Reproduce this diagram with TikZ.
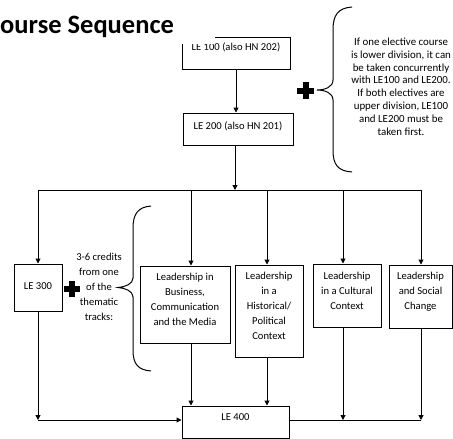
\documentclass[tikz,border=0pt]{standalone}
\usepackage{fontspec}
\setmainfont{Carlito}
\usetikzlibrary{arrows.meta}
\begin{document}
\begin{tikzpicture}[x=1pt,y=-1pt,
  box/.style={draw, line width=1pt, inner sep=0pt},
  txt/.style={align=center, inner sep=0pt, font=\fontsize{10.6}{15}\selectfont},
  note/.style={align=center, inner sep=0pt, font=\fontsize{10.9}{12.8}\selectfont},
  conn/.style={line width=1pt},
  arr/.style={conn, -{Triangle[length=5pt,width=5pt]}},
  brace/.style={line width=1pt},
  plussign/.style={fill=black}]
\useasboundingbox (0,0) rectangle (453,439);

% top boxes
\node[box, minimum width=108pt, minimum height=32pt] (le100) at (236,53) {};
\node[txt] (le100t) at (236,47) {LE 100 (also HN 202)};
\node[box, minimum width=110pt, minimum height=32pt] (le200) at (238,129) {};
\node[txt] (le200t) at (238,126) {LE 200 (also HN 201)};

% white cover and title
\fill[white] (-1,-1) rectangle (215,44);
\node[anchor=base west, inner sep=0pt, font=\fontsize{26.5}{30}\selectfont\bfseries] (title) at (0,33) {ourse Sequence};

% row boxes
\node[box, minimum width=48pt, minimum height=47pt] (le300) at (38,287.5) {};
\node[txt] (le300t) at (38,286) {LE 300};
\node[box, minimum width=90pt, minimum height=77pt] (bus) at (185,304.5) {};
\node[txt] (bust) at (185,299.5) {Leadership in\\Business,\\Communication\\and the Media};
\node[box, minimum width=68pt, minimum height=92pt] (hist) at (269,311) {};
\node[txt] (histt) at (269,305.5) {Leadership\\in a\\Historical/\\Political\\Context};
\node[box, minimum width=68pt, minimum height=63pt] (cul) at (347,295.5) {};
\node[txt] (cult) at (347,290.5) {Leadership\\in a Cultural\\Context};
\node[box, minimum width=63pt, minimum height=63pt] (soc) at (420.5,296.5) {};
\node[txt] (soct) at (420.5,292) {Leadership\\and Social\\Change};
\node[box, minimum width=107pt, minimum height=32pt] (le400) at (235.5,422) {};
\node[txt] (le400t) at (235.5,417) {LE 400};

% notes
\node[note] (note1) at (401,86.5) {If one elective course\\is lower division, it can\\be taken concurrently\\with LE100 and LE200.\\If both electives are\\upper division, LE100\\and LE200 must be\\taken first.};
\node[txt] (note2) at (99,287) {3-6 credits\\from one\\of the\\thematic\\tracks:};

% plus signs
\fill[plussign] (297,87.5) rectangle (314,93.5);
\fill[plussign] (302.5,82) rectangle (308.5,99);
\fill[plussign] (64,286) rectangle (80,292);
\fill[plussign] (69,281) rectangle (75,297);

% braces
\draw[brace] (352,7) .. controls (338,8) and (333,15) .. (333,30) -- (333,80)
  .. controls (333,87) and (325,90) .. (317,90)
  .. controls (325,90) and (333,93) .. (333,100) -- (333,150)
  .. controls (333,165) and (338,171) .. (352,172);
\draw[brace] (151,206) .. controls (138,207) and (133,214) .. (133,228) -- (133,278)
  .. controls (133,284) and (125,287) .. (118,287.5)
  .. controls (125,288) and (133,291) .. (133,297) -- (133,350)
  .. controls (133,364) and (138,370) .. (151,371);

% connectors
\coordinate (a1) at (236,0);
\draw[arr] (le100.south -| a1) -- (le200.north -| a1);
\coordinate (busc) at (235,190);
\coordinate (busL) at (38,190);
\coordinate (busR) at (421,190);
\coordinate (d2) at (191,190);
\coordinate (d3) at (267,190);
\coordinate (d4) at (343,190);
\draw[arr] (le200.south -| busc) -- (busc);
\draw[conn] (busL) -- (busR);
\draw[arr] (busL) -- (busL |- le300.north);
\draw[arr] (d2) -- (d2 |- bus.north);
\draw[arr] (d3) -- (d3 |- hist.north);
\draw[arr] (d4) -- (d4 |- cul.north);
\draw[arr] (busR) -- (busR |- soc.north);

\coordinate (j1) at (38,420);
\coordinate (j4) at (343,420);
\coordinate (j5) at (421,420);
\draw[arr] (le300.south) -- (j1);
\draw[arr] (j1) -- (j1 -| le400.west);
\draw[arr] (d2 |- bus.south) -- (d2 |- le400.north);
\draw[arr] (d3 |- hist.south) -- (d3 |- le400.north);
\draw[arr] (j4 |- cul.south) -- (j4);
\draw[arr] (j5 |- soc.south) -- (j5);
\draw[conn] (j5 -| le400.east) -- (j5);
\end{tikzpicture}
\end{document}
